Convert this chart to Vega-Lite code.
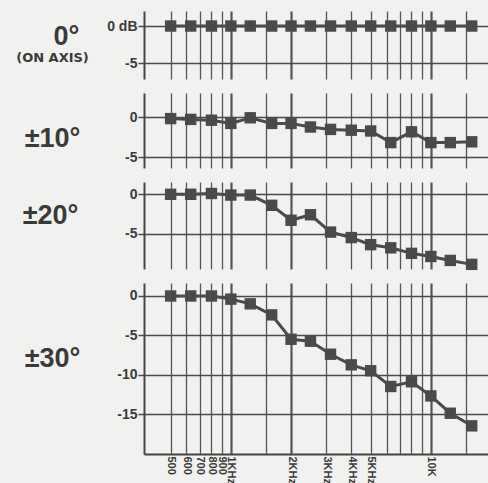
{
  "$schema": "https://vega.github.io/schema/vega-lite/v6.json",
  "background": "#f1f1ef",
  "padding": {"left": 15, "top": 11, "right": 0, "bottom": 0},
  "spacing": 14,
  "bounds": "flush",
  "config": {
    "view": {"stroke": null},
    "axis": {
      "labelFont": "Liberation Sans",
      "labelFontWeight": "bold",
      "labelColor": "#3a3a3a",
      "titleFont": "Liberation Sans",
      "titleFontWeight": "bold",
      "titleColor": "#3a3a3a",
      "gridOpacity": 1
    },
    "axisY": {
      "grid": true,
      "gridColor": "#4a4a4a",
      "gridWidth": 1.5,
      "domain": true,
      "domainColor": "#444444",
      "domainWidth": 2,
      "ticks": true,
      "tickSize": 6,
      "tickColor": "#4a4a4a",
      "tickWidth": 1.5,
      "labelPadding": 1,
      "labelFontSize": 14,
      "titleAngle": 0,
      "titleAlign": "center",
      "titleBaseline": "alphabetic",
      "titleFontSize": 27
    },
    "axisX": {
      "grid": true,
      "gridColor": "#555555",
      "gridWidth": {"condition": {"test": "datum.value == 1000 || datum.value == 2000 || datum.value == 10000", "value": 2.2}, "value": 1.3},
      "ticks": false
    }
  },
  "datasets": {
    "resp": [
      {"angle": "0", "freq": 500, "db": 0}, {"angle": "0", "freq": 630, "db": 0}, {"angle": "0", "freq": 800, "db": 0}, {"angle": "0", "freq": 1000, "db": 0},
      {"angle": "0", "freq": 1250, "db": 0}, {"angle": "0", "freq": 1600, "db": 0}, {"angle": "0", "freq": 2000, "db": 0}, {"angle": "0", "freq": 2500, "db": 0},
      {"angle": "0", "freq": 3150, "db": 0}, {"angle": "0", "freq": 4000, "db": 0}, {"angle": "0", "freq": 5000, "db": 0}, {"angle": "0", "freq": 6300, "db": 0},
      {"angle": "0", "freq": 8000, "db": 0}, {"angle": "0", "freq": 10000, "db": 0}, {"angle": "0", "freq": 12500, "db": 0}, {"angle": "0", "freq": 16000, "db": 0},
      {"angle": "10", "freq": 500, "db": -0.2}, {"angle": "10", "freq": 630, "db": -0.3}, {"angle": "10", "freq": 800, "db": -0.4}, {"angle": "10", "freq": 1000, "db": -0.8},
      {"angle": "10", "freq": 1250, "db": -0.1}, {"angle": "10", "freq": 1600, "db": -0.8}, {"angle": "10", "freq": 2000, "db": -0.8}, {"angle": "10", "freq": 2500, "db": -1.25},
      {"angle": "10", "freq": 3150, "db": -1.55}, {"angle": "10", "freq": 4000, "db": -1.65}, {"angle": "10", "freq": 5000, "db": -1.75}, {"angle": "10", "freq": 6300, "db": -3.2},
      {"angle": "10", "freq": 8000, "db": -1.85}, {"angle": "10", "freq": 10000, "db": -3.2}, {"angle": "10", "freq": 12500, "db": -3.2}, {"angle": "10", "freq": 16000, "db": -3.1},
      {"angle": "20", "freq": 500, "db": 0}, {"angle": "20", "freq": 630, "db": 0}, {"angle": "20", "freq": 800, "db": 0.1}, {"angle": "20", "freq": 1000, "db": -0.1},
      {"angle": "20", "freq": 1250, "db": -0.1}, {"angle": "20", "freq": 1600, "db": -1.4}, {"angle": "20", "freq": 2000, "db": -3.3}, {"angle": "20", "freq": 2500, "db": -2.6},
      {"angle": "20", "freq": 3150, "db": -4.8}, {"angle": "20", "freq": 4000, "db": -5.5}, {"angle": "20", "freq": 5000, "db": -6.4}, {"angle": "20", "freq": 6300, "db": -6.8},
      {"angle": "20", "freq": 8000, "db": -7.5}, {"angle": "20", "freq": 10000, "db": -7.9}, {"angle": "20", "freq": 12500, "db": -8.4}, {"angle": "20", "freq": 16000, "db": -8.9},
      {"angle": "30", "freq": 500, "db": 0}, {"angle": "30", "freq": 630, "db": 0}, {"angle": "30", "freq": 800, "db": 0}, {"angle": "30", "freq": 1000, "db": -0.4},
      {"angle": "30", "freq": 1250, "db": -1.0}, {"angle": "30", "freq": 1600, "db": -2.4}, {"angle": "30", "freq": 2000, "db": -5.5}, {"angle": "30", "freq": 2500, "db": -5.75},
      {"angle": "30", "freq": 3150, "db": -7.4}, {"angle": "30", "freq": 4000, "db": -8.75}, {"angle": "30", "freq": 5000, "db": -9.5}, {"angle": "30", "freq": 6300, "db": -11.5},
      {"angle": "30", "freq": 8000, "db": -10.9}, {"angle": "30", "freq": 10000, "db": -12.7}, {"angle": "30", "freq": 12500, "db": -14.9}, {"angle": "30", "freq": 16000, "db": -16.5}
    ]
  },
  "vconcat": [
    {
      "width": 344, "height": 68,
      "data": {"name": "resp"},
      "transform": [{"filter": "datum.angle == '0'"}],
      "encoding": {
        "x": {"field": "freq", "type": "quantitative", "scale": {"type": "log", "domain": [368, 19300], "nice": false},
          "axis": {"values": [500, 600, 700, 800, 900, 1000, 1500, 2000, 3000, 4000, 5000, 6000, 7000, 8000, 9000, 10000, 15000], "labels": false, "domain": false, "title": "(ON AXIS)", "titleX": -92, "titleY": -18, "titleAlign": "center", "titleBaseline": "alphabetic", "titleFont": "DejaVu Sans", "titleFontSize": 13, "titleAngle": 0}},
        "y": {"field": "db", "type": "quantitative", "scale": {"domain": [-7.16, 2.03], "nice": false, "zero": false},
          "axis": {"values": [0, -5], "labelExpr": "datum.value == 0 ? '0 dB' : '' + datum.value", "title": "0°", "titleX": -78, "titleY": 33}}
      },
      "layer": [
        {"mark": {"type": "line", "color": "#4a4a4a", "strokeWidth": 3}},
        {"mark": {"type": "point", "shape": "square", "filled": true, "size": 130, "color": "#4a4a4a", "opacity": 1}}
      ]
    },
    {
      "width": 344, "height": 75,
      "data": {"name": "resp"},
      "transform": [{"filter": "datum.angle == '10'"}],
      "encoding": {
        "x": {"field": "freq", "type": "quantitative", "scale": {"type": "log", "domain": [368, 19300], "nice": false},
          "axis": {"values": [500, 600, 700, 800, 900, 1000, 1500, 2000, 3000, 4000, 5000, 6000, 7000, 8000, 9000, 10000, 15000], "labels": false, "domain": false, "title": null}},
        "y": {"field": "db", "type": "quantitative", "scale": {"domain": [-6.375, 3.0], "nice": false, "zero": false},
          "axis": {"values": [0, -5], "labelExpr": "'' + datum.value", "title": "±10°", "titleX": -92, "titleY": 53}}
      },
      "layer": [
        {"mark": {"type": "line", "color": "#4a4a4a", "strokeWidth": 3}},
        {"mark": {"type": "point", "shape": "square", "filled": true, "size": 130, "color": "#4a4a4a", "opacity": 1}}
      ]
    },
    {
      "width": 344, "height": 87,
      "data": {"name": "resp"},
      "transform": [{"filter": "datum.angle == '20'"}],
      "encoding": {
        "x": {"field": "freq", "type": "quantitative", "scale": {"type": "log", "domain": [368, 19300], "nice": false},
          "axis": {"values": [500, 600, 700, 800, 900, 1000, 1500, 2000, 3000, 4000, 5000, 6000, 7000, 8000, 9000, 10000, 15000], "labels": false, "domain": false, "title": null}},
        "y": {"field": "db", "type": "quantitative", "scale": {"domain": [-9.49, 1.56], "nice": false, "zero": false},
          "axis": {"values": [0, -5], "labelExpr": "'' + datum.value", "title": "±20°", "titleX": -94, "titleY": 41}}
      },
      "layer": [
        {"mark": {"type": "line", "color": "#4a4a4a", "strokeWidth": 3}},
        {"mark": {"type": "point", "shape": "square", "filled": true, "size": 130, "color": "#4a4a4a", "opacity": 1}}
      ]
    },
    {
      "width": 344, "height": 171,
      "data": {"name": "resp"},
      "transform": [{"filter": "datum.angle == '30'"}],
      "encoding": {
        "x": {"field": "freq", "type": "quantitative", "scale": {"type": "log", "domain": [368, 19300], "nice": false},
          "axis": {"values": [500, 600, 700, 800, 900, 1000, 1500, 2000, 3000, 4000, 5000, 6000, 7000, 8000, 9000, 10000, 15000], "labels": true, "domain": true, "domainColor": "#444444", "domainWidth": 2, "title": null,
            "labelExpr": "datum.value == 1000 ? '1KHz' : datum.value == 2000 ? '2KHz' : datum.value == 3000 ? '3KHz' : datum.value == 4000 ? '4KHz' : datum.value == 5000 ? '5KHz' : datum.value == 10000 ? '10K' : datum.value < 1000 ? '' + datum.value : ''",
            "labelAngle": 90, "labelAlign": "left", "labelBaseline": "middle", "labelFontSize": 11, "labelPadding": 2, "labelOverlap": false, "labelFlush": false}},
        "y": {"field": "db", "type": "quantitative", "scale": {"domain": [-20.08, 1.65], "nice": false, "zero": false},
          "axis": {"values": [0, -5, -10, -15], "labelExpr": "'' + datum.value", "title": "±30°", "titleX": -92, "titleY": 83}}
      },
      "layer": [
        {"mark": {"type": "line", "color": "#4a4a4a", "strokeWidth": 3}},
        {"mark": {"type": "point", "shape": "square", "filled": true, "size": 130, "color": "#4a4a4a", "opacity": 1}}
      ]
    }
  ]
}
